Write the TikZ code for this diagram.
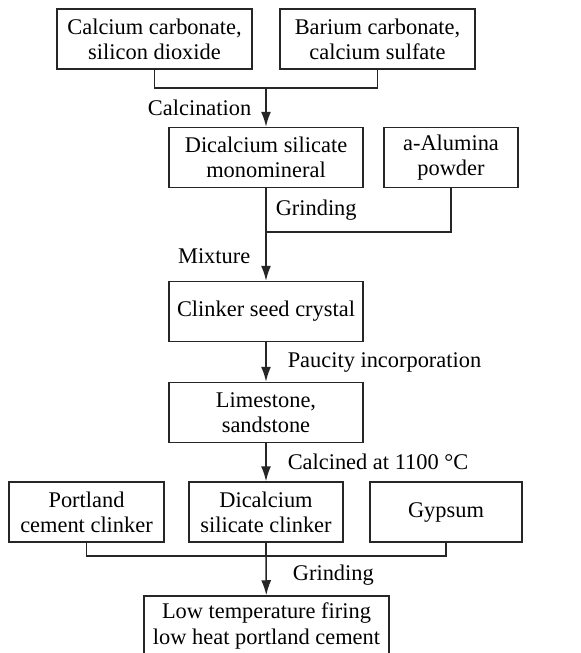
\documentclass[tikz,border=0pt]{standalone}
\usepackage{fontspec}
\setmainfont{Liberation Serif}
\usetikzlibrary{arrows.meta,positioning}

\begin{document}
\begin{tikzpicture}[
    x=0.5pt, y=-0.5pt,
    font=\fontsize{11.2}{12.6}\selectfont,
    % Plain boxed steps and thin connectors
    box/.style={
      draw=black!85,
      line width=0.75pt,
      align=center,
      inner sep=2pt,
      minimum height=30pt,
      minimum width=97pt
    },
    line/.style={draw=black!85, line width=0.75pt},
    arrow/.style={line, -{Latex[length=7.5pt,width=5pt]}},
    note/.style={inner sep=0pt}
  ]
  \useasboundingbox (0,0) rectangle (581,653);

  % Raw materials and the first product
  \node[box, minimum width=97.5pt] (carb) at (154.5,39) {Calcium carbonate,\\silicon dioxide};
  \node[box, minimum width=97.5pt] (barium) at (377.5,39) {Barium carbonate,\\calcium sulfate};
  \node[box] (mono) at (266,157.5) {Dicalcium silicate\\monomineral};
  \node[box, minimum width=67pt] (alumina) at (451,157.5) {a-Alumina\\powder};

  % Seed crystal route
  \node[box] (seed) at (266,311.5) {Clinker seed crystal};
  \node[box] (lime) at (266,412.5) {Limestone,\\sandstone};

  % Clinkers and additive
  \node[box, minimum width=77.5pt] (portland) at (86.5,512) {Portland\\cement clinker};
  \node[box, minimum width=77pt] (c2s) at (266,512) {Dicalcium\\silicate clinker};
  \node[box, minimum width=76pt] (gypsum) at (446,512) {Gypsum};

  % Final product
  \node[box, minimum width=122.5pt] (lowheat) at (266.5,626) {Low temperature firing\\low heat portland cement};

  % Junction points of the merging lines
  \coordinate (join1) at (266,88);
  \coordinate (join2) at (266,232);
  \coordinate (join3) at (266,556);

  % Connectors with their process labels
  \draw[line] (carb.south) |- (join1) -| (barium.south);
  \draw[arrow] (join1) -- node[note, left=7pt]{Calcination} (mono);

  \draw[line] (mono) -- node[note, right=4.5pt]{Grinding} (join2);
  \draw[line] (alumina.south) |- (join2);
  \draw[arrow] (join2) -- node[note, left=7.5pt]{Mixture} (seed);

  \draw[arrow] (seed) -- node[note, right=10.5pt]{Paucity incorporation} (lime);
  \draw[arrow] (lime) -- node[note, right=10.5pt]{Calcined at 1100 °C} (c2s);

  \draw[line] (portland.south) |- (join3) -| (gypsum.south);
  \draw[line] (c2s) -- (join3);
  \draw[arrow] (join3) -- node[note, right=13pt]{Grinding} (lowheat);
\end{tikzpicture}
\end{document}
